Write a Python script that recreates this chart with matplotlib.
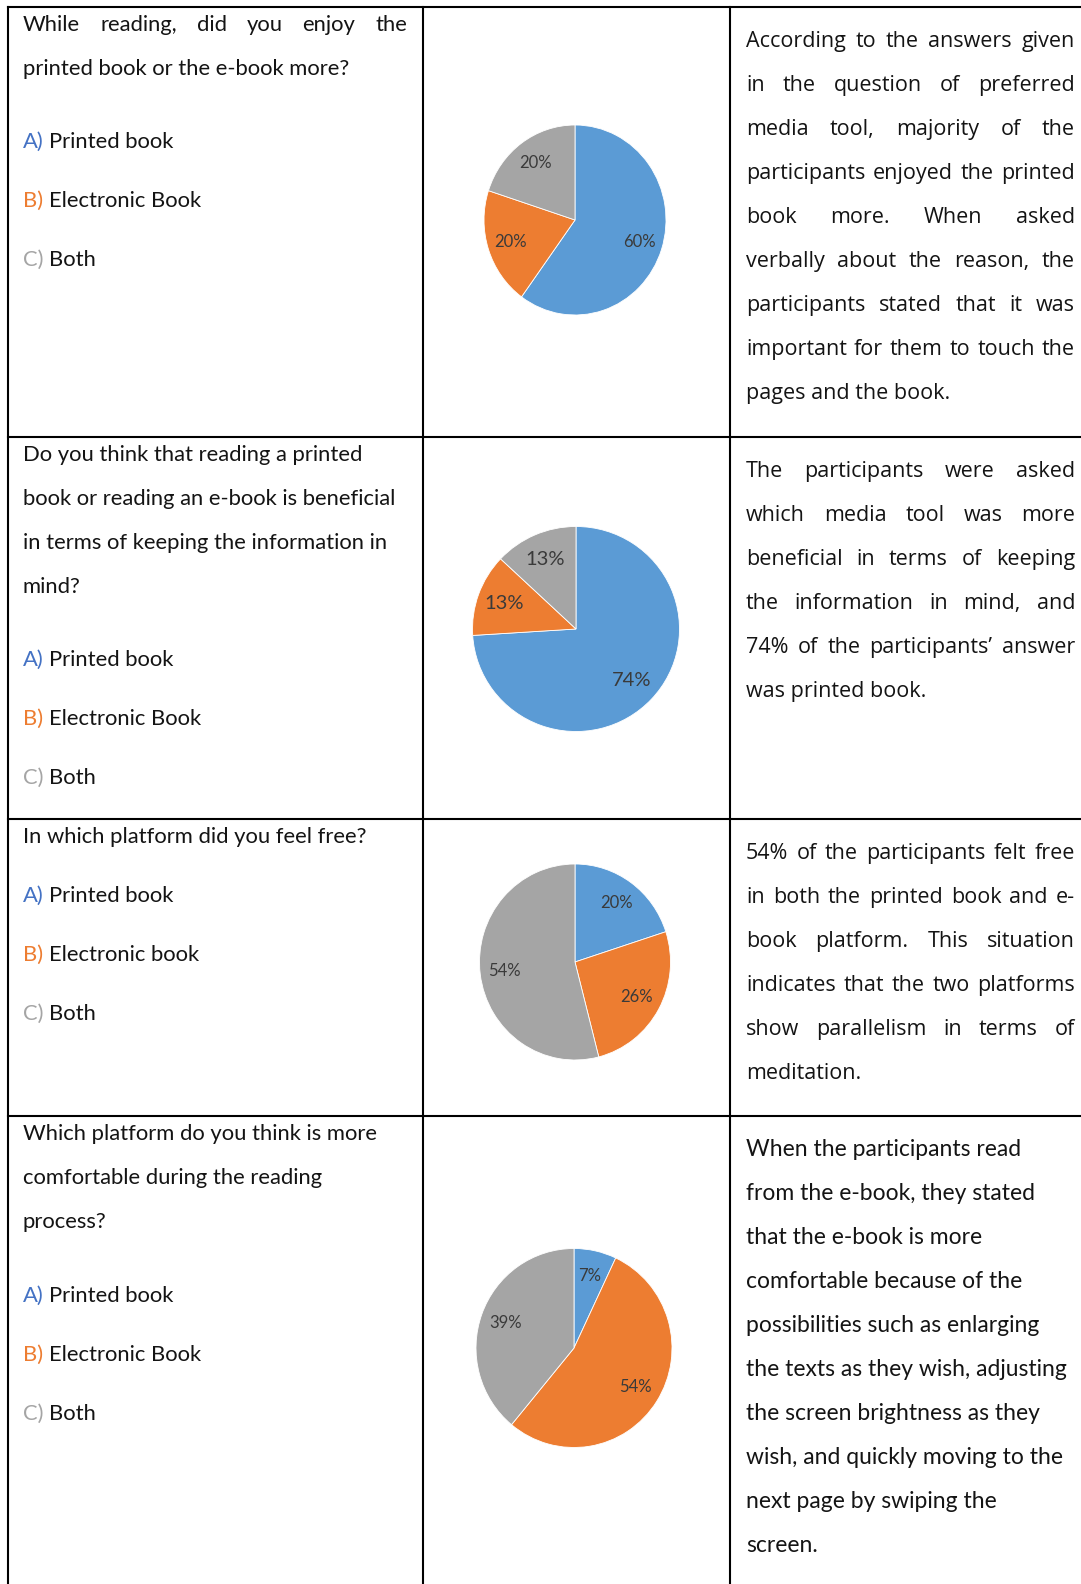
import matplotlib
matplotlib.use("Agg")
import matplotlib.pyplot as plt
from matplotlib.lines import Line2D

W, H = 1081, 1584

# share of answers per question: printed book, e-book, both
enjoy_share = [60, 20, 20]
memory_share = [74, 13, 13]
free_share = [20, 26, 54]
comfort_share = [7, 54, 39]

slice_colors = ["#5B9BD5", "#ED7D31", "#A5A5A5"]
letter_colors = ["#4472C4", "#ED7D31", "#A5A5A5"]
option_letters = ["A)", "B)", "C)"]

questions = [
    ["While reading, did you enjoy the",
     "printed book or the e-book more?"],
    ["Do you think that reading a printed",
     "book or reading an e-book is beneficial",
     "in terms of keeping the information in",
     "mind?"],
    ["In which platform did you feel free?"],
    ["Which platform do you think is more",
     "comfortable during the reading",
     "process?"],
]

options = [
    ["Printed book", "Electronic Book", "Both"],
    ["Printed book", "Electronic Book", "Both"],
    ["Printed book", "Electronic book", "Both"],
    ["Printed book", "Electronic Book", "Both"],
]

comments = [
    ["According to the answers given",
     "in the question of preferred",
     "media tool, majority of the",
     "participants enjoyed the printed",
     "book more. When asked",
     "verbally about the reason, the",
     "participants stated that it was",
     "important for them to touch the",
     "pages and the book."],
    ["The participants were asked",
     "which media tool was more",
     "beneficial in terms of keeping",
     "the information in mind, and",
     "74% of the participants\u2019 answer",
     "was printed book."],
    ["54% of the participants felt free",
     "in both the printed book and e-",
     "book platform. This situation",
     "indicates that the two platforms",
     "show parallelism in terms of",
     "meditation."],
    ["When the participants read",
     "from the e-book, they stated",
     "that the e-book is more",
     "comfortable because of the",
     "possibilities such as enlarging",
     "the texts as they wish, adjusting",
     "the screen brightness as they",
     "wish, and quickly moving to the",
     "next page by swiping the",
     "screen."],
]

shares = [enjoy_share, memory_share, free_share, comfort_share]

# layout of each table row, in pixels from the top left corner
layout = [
    dict(q_y=24, opt_y=141, c_y=40, q_justify=[True, False],
         c_font="Open Sans", c_size=15.5, c_justify=True,
         pie=(575, 220, 182, 190), pct_size=12),
    dict(q_y=454, opt_y=659, c_y=470, q_justify=[False] * 4,
         c_font="Open Sans", c_size=15.5, c_justify=True,
         pie=(576, 629, 207, 205), pct_size=14.5),
    dict(q_y=836, opt_y=895, c_y=852, q_justify=[False],
         c_font="Open Sans", c_size=15.5, c_justify=True,
         pie=(575, 962, 191, 196), pct_size=12),
    dict(q_y=1133, opt_y=1295, c_y=1149, q_justify=[False] * 3,
         c_font="Lato", c_size=16.5, c_justify=False,
         pie=(574, 1348, 196, 199), pct_size=12),
]

row_lines = [7, 437, 819, 1116]
col_lines = [8, 423, 730]

LINE_STEP = 44
OPT_STEP = 59
TEXT_COLOR = "#141414"
BODY_FONT = "Lato"
BODY_SIZE = 15.8


def fx(x):
    return x / W


def fy(y):
    return 1 - y / H


def word_widths(fig, renderer, words, font, size):
    widths = []
    for word in words:
        t = fig.text(0, 0, word, fontfamily=font, fontsize=size)
        widths.append(t.get_window_extent(renderer).width)
        t.remove()
    return widths


def draw_line(fig, renderer, text, x0, x1, y, font, size, justify):
    """
    Draw one line of text, spreading the words to fill x0..x1 if justified
    """
    base = y + 7
    words = text.split()
    if not justify or len(words) < 2:
        fig.text(fx(x0), fy(base), text, fontfamily=font, fontsize=size,
                 color=TEXT_COLOR, va="baseline")
        return
    widths = word_widths(fig, renderer, words, font, size)
    gap = (x1 - x0 - sum(widths)) / (len(words) - 1)
    x = x0
    for word, wd in zip(words, widths):
        fig.text(fx(x), fy(base), word, fontfamily=font, fontsize=size,
                 color=TEXT_COLOR, va="baseline")
        x += wd + gap


def draw_pie(fig, values, cx, cy, w, h, pct_size):
    pad = 1.03
    ax = fig.add_axes([fx(cx - w / 2 * pad), fy(cy + h / 2 * pad),
                       w * pad / W, h * pad / H])
    ax.pie(values, colors=slice_colors, startangle=90, counterclock=False,
           autopct=lambda p: f"{p:.0f}%", pctdistance=0.74,
           wedgeprops=dict(edgecolor="white", linewidth=0.6),
           textprops=dict(fontsize=pct_size, color="#3a3a3a",
                          fontfamily="Lato"))
    ax.set_aspect("auto")
    ax.set_xlim(-pad, pad)
    ax.set_ylim(-pad, pad)
    ax.axis("off")


def main():
    fig = plt.figure(figsize=(W / 100, H / 100), dpi=100)
    fig.patch.set_facecolor("white")
    renderer = fig.canvas.get_renderer()

    # table grid
    for y in row_lines:
        fig.add_artist(Line2D([fx(col_lines[0]), fx(W)], [fy(y), fy(y)],
                              color="black", lw=1.5))
    for x in col_lines:
        fig.add_artist(Line2D([fx(x), fx(x)], [fy(row_lines[0]), fy(H)],
                              color="black", lw=1.5))

    for row, q_lines in enumerate(questions):
        lay = layout[row]
        for i, line in enumerate(q_lines):
            draw_line(fig, renderer, line, 23, 407,
                      lay["q_y"] + i * LINE_STEP, BODY_FONT, BODY_SIZE,
                      lay["q_justify"][i])
        for i, (letter, label) in enumerate(zip(option_letters,
                                                options[row])):
            base = lay["opt_y"] + i * OPT_STEP + 7
            fig.text(fx(23), fy(base), letter, fontfamily=BODY_FONT,
                     fontsize=BODY_SIZE, color=letter_colors[i],
                     va="baseline")
            fig.text(fx(49), fy(base), label, fontfamily=BODY_FONT,
                     fontsize=BODY_SIZE, color=TEXT_COLOR, va="baseline")

        c_lines = comments[row]
        for i, line in enumerate(c_lines):
            last = i == len(c_lines) - 1
            draw_line(fig, renderer, line, 746, 1075,
                      lay["c_y"] + i * LINE_STEP, lay["c_font"],
                      lay["c_size"], lay["c_justify"] and not last)

        cx, cy, w, h = lay["pie"]
        draw_pie(fig, shares[row], cx, cy, w, h, lay["pct_size"])

    fig.savefig("out.png", dpi=100)


if __name__ == "__main__":
    main()
